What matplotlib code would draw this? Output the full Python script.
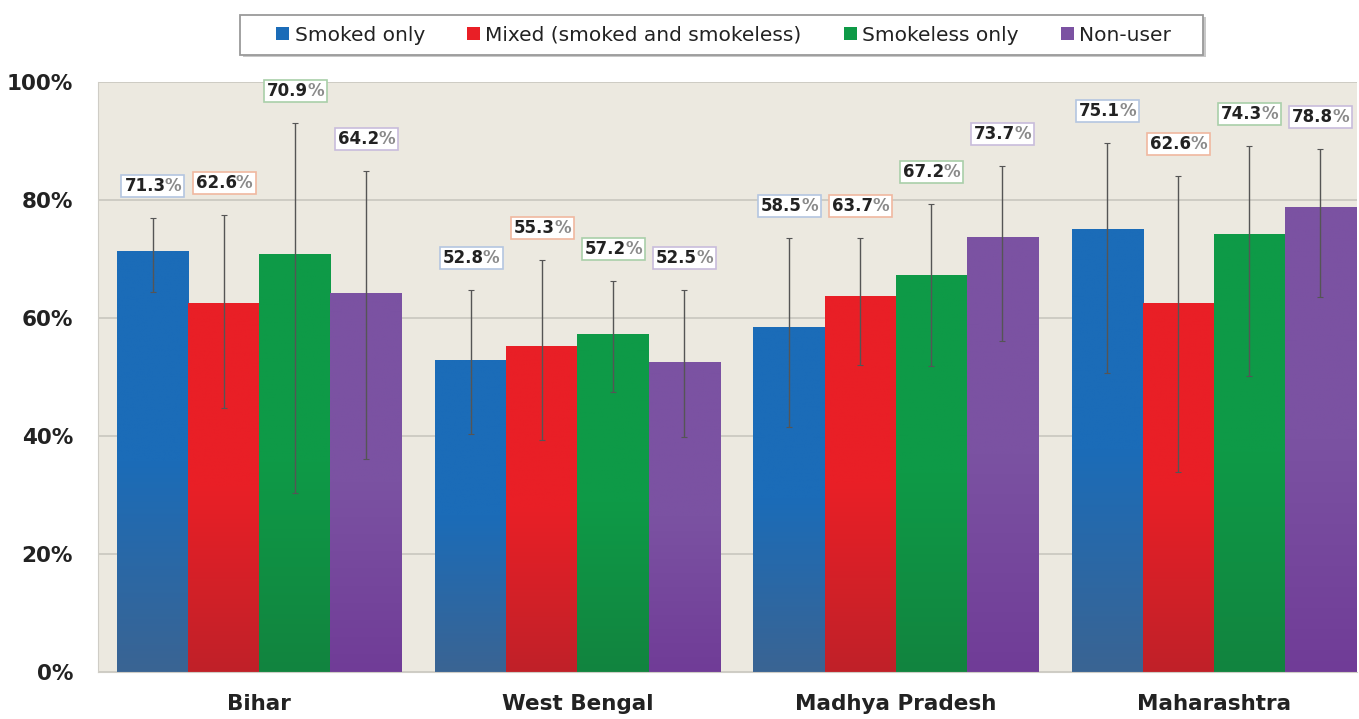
import numpy as np
import matplotlib
matplotlib.use("Agg")
import matplotlib.pyplot as plt
from matplotlib.colors import LinearSegmentedColormap
from matplotlib.patches import Patch, Rectangle

# data
states = ["Bihar", "West Bengal", "Madhya Pradesh", "Maharashtra"]
series = ["Smoked only", "Mixed (smoked and smokeless)", "Smokeless only", "Non-user"]
smoked_only = [71.3, 52.8, 58.5, 75.1]
mixed = [62.6, 55.3, 63.7, 62.6]
smokeless_only = [70.9, 57.2, 67.2, 74.3]
non_user = [64.2, 52.5, 73.7, 78.8]
# confidence interval bounds (lower, upper)
smoked_only_ci = [(64.4, 77.0), (40.3, 64.7), (41.5, 73.6), (50.7, 89.7)]
mixed_ci = [(44.7, 77.5), (39.3, 69.8), (52.0, 73.6), (33.9, 84.1)]
smokeless_only_ci = [(30.3, 93.1), (47.5, 66.3), (51.9, 79.3), (50.2, 89.2)]
non_user_ci = [(36.1, 84.9), (39.8, 64.7), (56.1, 85.8), (63.6, 88.6)]

values = [smoked_only, mixed, smokeless_only, non_user]
cis = [smoked_only_ci, mixed_ci, smokeless_only_ci, non_user_ci]

# top colour, bottom colour, label box edge
top_colors = ["#1b6cb8", "#e91f26", "#0e9a47", "#7b52a2"]
bottom_colors = ["#3a6493", "#c02129", "#12843f", "#703c97"]
box_edges = ["#b4c6e0", "#f0b8a0", "#a9cfa9", "#c8bcdc"]

fig = plt.figure(figsize=(13.59, 7.19), dpi=100)
ax = fig.add_axes([0.0721, 0.0654, 0.9264, 0.8206])
ax.set_facecolor("#ece9e0")

x = np.arange(len(states))
width = 0.2235

labels = []  # (number text, percent text, edge colour)
for i, (vals, ci) in enumerate(zip(values, cis)):
    pos = x + (i - 1.5) * width
    bars = ax.bar(pos, vals, width, color=top_colors[i], zorder=2, linewidth=0)
    cmap = LinearSegmentedColormap.from_list(
        "g%d" % i, [bottom_colors[i], top_colors[i], top_colors[i]])
    grad = np.linspace(0, 1, 256).reshape(-1, 1)
    for b, v in zip(bars, vals):
        im = ax.imshow(grad, cmap=cmap, aspect="auto", origin="lower",
                       extent=[b.get_x(), b.get_x() + b.get_width(), 0, v],
                       zorder=2.1)
        im.set_clip_path(b)
    lo = np.array([c[0] for c in ci])
    hi = np.array([c[1] for c in ci])
    ax.errorbar(pos, vals, yerr=[np.array(vals) - lo, hi - np.array(vals)],
                fmt="none", ecolor="#555555", elinewidth=1, capsize=2,
                capthick=0.8, zorder=3)
    for p, v, h in zip(pos, vals, hi):
        t_num = ax.annotate("%.1f" % v, xy=(p, h + 5.4), xytext=(-5.5, 0),
                            textcoords="offset points", ha="center",
                            va="center", fontsize=12, fontweight="bold",
                            color="#222222", zorder=6)
        t_pct = ax.annotate("%", xy=(1, 0.5), xycoords=t_num, xytext=(-0.5, 0),
                            textcoords="offset points", ha="left",
                            va="center", fontsize=12, fontweight="bold",
                            color="#8a8a8a", zorder=6)
        labels.append((t_num, t_pct, box_edges[i]))

ax.set_xlim(x[0] - 2 * width - 0.06, x[-1] + 2 * width + 0.003)
ax.set_ylim(0, 100)
ax.set_yticks([0, 20, 40, 60, 80, 100])
ax.set_yticklabels(["0%", "20%", "40%", "60%", "80%", "100%"],
                   fontsize=15.5, fontweight="bold", color="#222222")
ax.yaxis.grid(True, color="#c9c7bf", linewidth=1.2, zorder=0)
ax.set_axisbelow(True)
ax.tick_params(axis="y", length=0, pad=18)
ax.tick_params(axis="x", length=0, pad=16)
ax.set_xticks(x)
ax.set_xticklabels(states, fontsize=15.5, fontweight="bold", color="#222222")
for s in ["top", "right"]:
    ax.spines[s].set_visible(False)
ax.spines["left"].set_color("#cfcdc6")
ax.spines["bottom"].set_color("#cfcdc6")

# white boxes round the value labels
fig.canvas.draw()
renderer = fig.canvas.get_renderer()
inv = ax.transData.inverted()
for t_num, t_pct, ec in labels:
    b1 = t_num.get_window_extent(renderer)
    b2 = t_pct.get_window_extent(renderer)
    x0, y0 = min(b1.x0, b2.x0) - 3, min(b1.y0, b2.y0) - 2
    x1, y1 = max(b1.x1, b2.x1) + 3, max(b1.y1, b2.y1) + 2
    (dx0, dy0), (dx1, dy1) = inv.transform([(x0, y0), (x1, y1)])
    ax.add_patch(Rectangle((dx0, dy0), dx1 - dx0, dy1 - dy0, facecolor="white",
                           edgecolor=ec, linewidth=1.2, zorder=4,
                           clip_on=False))

# legend with a hand drawn frame and slight shadow
fig.add_artist(Rectangle((0.1786, 0.9207), 0.7086, 0.0556, transform=fig.transFigure,
                         facecolor="#c8c8c8", edgecolor="none", zorder=0))
fig.add_artist(Rectangle((0.1766, 0.9235), 0.7086, 0.0556, transform=fig.transFigure,
                         facecolor="white", edgecolor="#9a9a9a", linewidth=1.3,
                         zorder=0.5))
handles = [Patch(facecolor=c, edgecolor="none") for c in top_colors]
leg = fig.legend(handles, series, loc="center", bbox_to_anchor=(0.5324, 0.951),
                 ncol=4, frameon=False, fontsize=14.5,
                 handlelength=0.65, handleheight=0.65, handletextpad=0.25,
                 columnspacing=2.1, borderpad=0.3)
for txt in leg.get_texts():
    txt.set_color("#222222")

fig.savefig("out.png", dpi=100)
